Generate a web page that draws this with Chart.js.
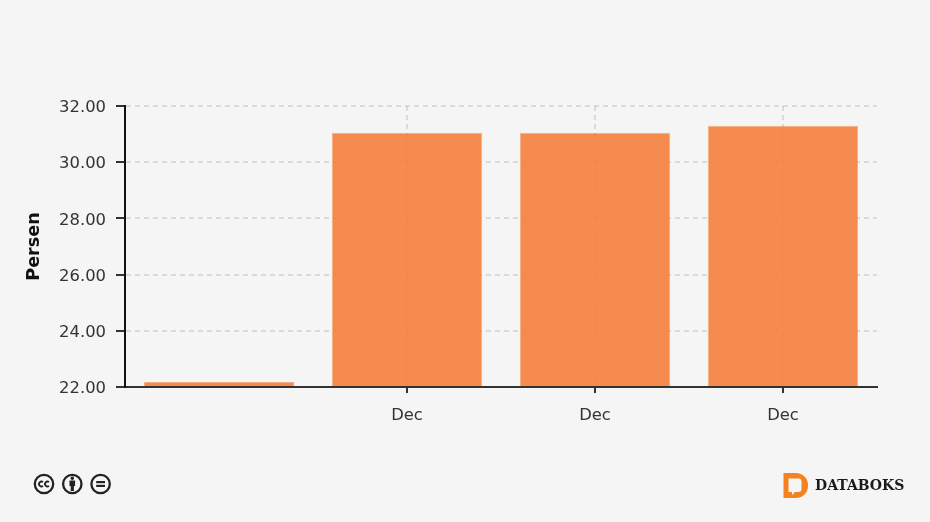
<!DOCTYPE html>
<html lang="en">
<head>
    <meta charset="UTF-8">
    <title>Persen</title>
    <script src="https://cdn.jsdelivr.net/npm/chart.js"></script>
    <style>
        html, body { margin: 0; padding: 0; background: #f5f5f5; }
        #wrap { position: relative; width: 930px; height: 522px; overflow: hidden; }
        #chart { position: absolute; left: 0; top: 0; }
        #cc { position: absolute; left: 33px; top: 473px; }
        #logo { position: absolute; left: 783px; top: 472px; }
        #brand {
            position: absolute; left: 815px; top: 475px;
            font: bold 14px "DejaVu Serif", serif; color: #1a1a1a; line-height: 20px;
        }
    </style>
</head>
<body>
<div id="wrap">
    <canvas id="chart" width="930" height="522"></canvas>

    <svg id="cc" width="80" height="22" viewBox="0 0 80 22">
        <g fill="none" stroke="#222" stroke-width="2.300">
            <circle cx="11" cy="11" r="9.200"/>
            <circle cx="39.300" cy="11" r="9.200"/>
            <circle cx="67.600" cy="11" r="9.200"/>
            <path d="M10 9.200a2.400 2.400 0 1 0 0 3.600M16 9.200a2.400 2.400 0 1 0 0 3.600" stroke-width="1.800"/>
        </g>
        <g fill="#222">
            <circle cx="39.300" cy="5.200" r="1.700"/>
            <path d="M36.500 7.500h5.600v5.500h-1.200V18h-3.200v-5h-1.200z"/>
            <rect x="63.200" y="8" width="8.800" height="2.200"/>
            <rect x="63.200" y="11.800" width="8.800" height="2.200"/>
        </g>
    </svg>

    <svg id="logo" width="26" height="27" viewBox="0 0 26 27">
        <path d="M0.500 1H13a12 12 0 0 1 12 12v1a12 12 0 0 1 -12 12H0.500z" fill="#f58220"/>
        <path d="M5.500 6.500h10a3 3 0 0 1 3 3V17a3 3 0 0 1 -3 3H12l-3 3v-3H5.500z" fill="#f5f5f5"/>
    </svg>
    <div id="brand">DATABOKS</div>
</div>

<script type="text/javascript">
    const categories = ['', 'Dec', 'Dec', 'Dec'];
    const persenValues = [22.18, 31.05, 31.05, 31.3];
    const tickValues = [22, 24, 26, 28, 30, 32];

    const tickFont = { family: '"DejaVu Sans", Verdana, sans-serif', size: 16.4 };
    const gridColor = 'rgba(195,195,195,0.55)';

    new Chart(document.getElementById('chart').getContext('2d'), {
        type: 'bar',
        data: {
            labels: categories,
            datasets: [{
                data: persenValues,
                backgroundColor: 'rgba(245,127,60,0.9)',  // grid shows faintly through the bars
                borderColor: 'rgba(245,127,60,0.6)',
                borderWidth: 1,
                barPercentage: 0.8,
                categoryPercentage: 1
            }]
        },
        options: {
            responsive: false,
            animation: false,
            layout: { padding: { top: 106, right: 53, left: 20, bottom: 0 } },
            plugins: { legend: { display: false }, tooltip: { enabled: false } },
            scales: {
                x: {
                    afterFit: function(scale) { scale.height = 135; },
                    border: { color: '#333', width: 2, z: 2, dash: [5, 4] },
                    grid: {
                        offset: false,
                        color: ctx => ctx.index === 0 ? 'transparent' : gridColor,
                        tickColor: ctx => ctx.index === 0 ? 'transparent' : '#333',
                        lineWidth: 2,
                        tickWidth: 2,
                        tickLength: 6,
                        tickBorderDash: []
                    },
                    ticks: { color: '#333', font: tickFont, padding: 13, maxRotation: 0, autoSkip: false }
                },
                y: {
                    min: 22,
                    max: 32,
                    afterFit: function(scale) { scale.width = 105; },
                    afterBuildTicks: function(scale) { scale.ticks = tickValues.map(v => ({ value: v })); },
                    title: {
                        display: true,
                        text: 'Persen',
                        color: '#111',
                        font: { family: '"DejaVu Sans", Verdana, sans-serif', size: 17.6, weight: 'bold' }
                    },
                    border: { color: '#111', width: 2, z: 2, dash: [5, 4] },
                    grid: {
                        color: gridColor,
                        tickColor: '#333',
                        lineWidth: 2,
                        tickWidth: 2,
                        tickLength: 9,
                        tickBorderDash: []
                    },
                    ticks: {
                        color: '#333',
                        font: tickFont,
                        padding: 10,
                        labelOffset: 2,
                        callback: value => value.toFixed(2)
                    }
                }
            }
        }
    });
</script>
</body>
</html>
